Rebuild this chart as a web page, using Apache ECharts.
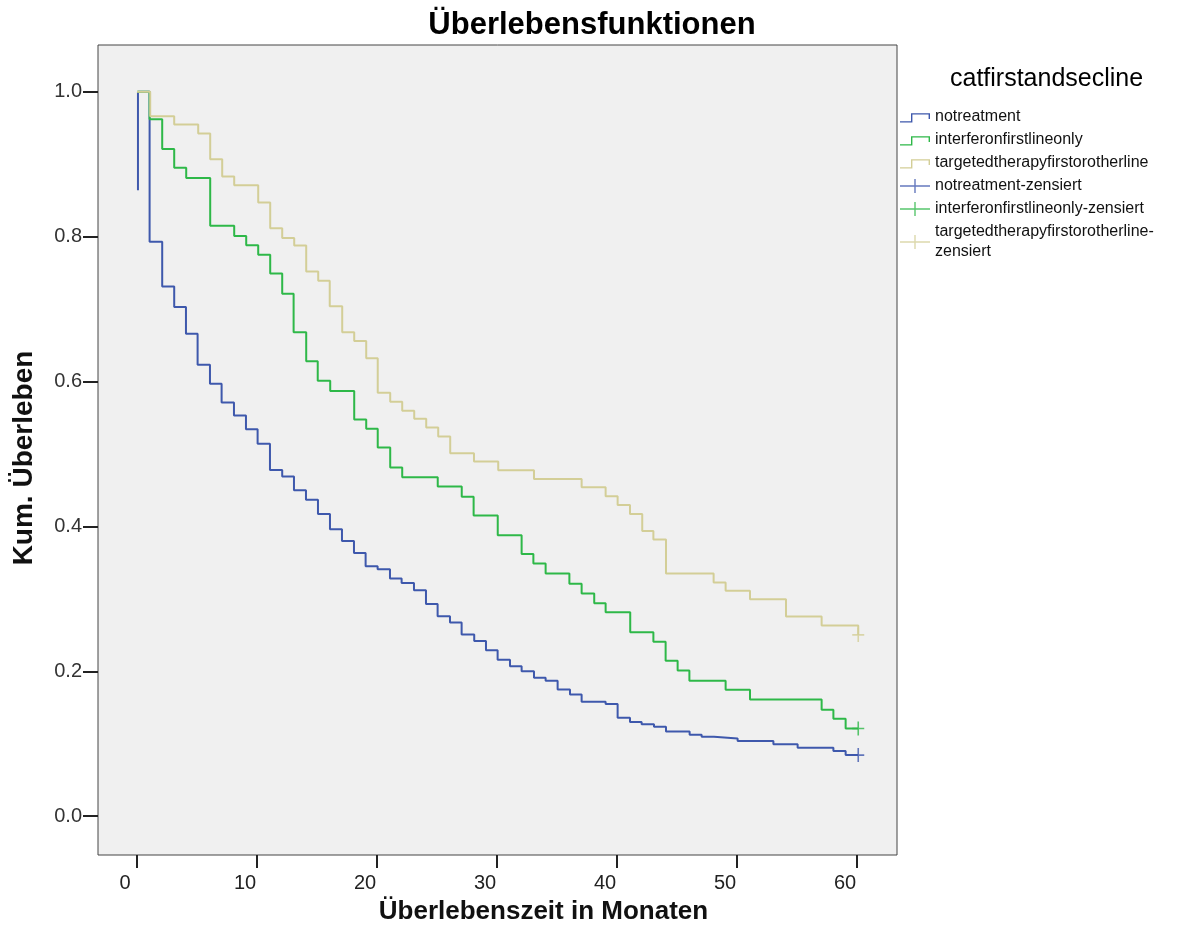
<!DOCTYPE html>
<html><head><meta charset="utf-8">
<script src="https://cdn.jsdelivr.net/npm/echarts@6/dist/echarts.min.js"></script>
<style>html,body{margin:0;padding:0;background:#fff}#c{width:1184px;height:930px}</style>
</head><body><div id="c"></div>
<script>
// ---- data ----
const xTicks = [0, 10, 20, 30, 40, 50, 60];
const yTicks = [0, 0.2, 0.4, 0.6, 0.8, 1.0];
const groupNames = ['notreatment', 'interferonfirstlineonly', 'targetedtherapyfirstorotherline'];
const censoredNames = ['notreatment-zensiert', 'interferonfirstlineonly-zensiert', 'targetedtherapyfirstorotherline-zensiert'];

// [month, cumulative survival] at each step
const noTreatment = [
  [0.08,1.0],[1.05,0.793],[2.1,0.731],[3.1,0.703],[4.08,0.666],[5.05,0.623],[6.08,0.597],[7.05,0.571],
  [8.08,0.553],[9.08,0.534],[10.05,0.514],[11.08,0.478],[12.1,0.469],[13.08,0.450],[14.08,0.437],
  [15.08,0.417],[16.08,0.396],[17.08,0.380],[18.08,0.3635],[19.05,0.345],[20.05,0.341],[21.08,0.328],
  [22.05,0.322],[23.08,0.312],[24.08,0.293],[25.05,0.276],[26.08,0.2675],[27.05,0.251],[28.1,0.242],
  [29.08,0.229],[30.05,0.216],[31.08,0.207],[32.05,0.200],[33.08,0.191],[34.05,0.187],[35.05,0.175],
  [36.08,0.168],[37.05,0.158],[39.05,0.155],[40.05,0.136],[41.08,0.130],[42.05,0.127],[43.08,0.1235],
  [44.08,0.117],[46.05,0.1125],[47.05,0.1097],[48.08,0.1074],[50.05,0.104],[53.03,0.0995],
  [55.05,0.0946],[58.03,0.090],[59.05,0.0844],[60.1,0.0844]
];
const noTreatmentStart = [[0.08,1.0],[0.08,0.864]];
const interferon = [
  [0,1.0],[1.05,0.962],[2.1,0.921],[3.1,0.895],[4.1,0.881],[6.1,0.815],[8.1,0.801],[9.1,0.788],
  [10.1,0.775],[11.1,0.749],[12.1,0.721],[13.05,0.668],[14.1,0.628],[15.06,0.601],[16.1,0.587],
  [18.1,0.5475],[19.1,0.535],[20.06,0.509],[21.1,0.4815],[22.1,0.468],[25.06,0.455],[27.06,0.441],
  [28.05,0.415],[30.06,0.388],[32.05,0.362],[33.03,0.349],[34.05,0.335],[36.03,0.321],[37.05,0.3075],
  [38.1,0.294],[39.05,0.2814],[41.1,0.254],[43.03,0.241],[44.05,0.2147],[45.05,0.201],[46.03,0.187],
  [49.05,0.1745],[51.08,0.161],[57.05,0.147],[58.03,0.1347],[59.05,0.121],[60.1,0.121]
];
const targeted = [
  [0,1.0],[1.1,0.966],[3.1,0.9547],[5.1,0.9424],[6.1,0.9067],[7.1,0.883],[8.1,0.871],[10.1,0.847],
  [11.1,0.8114],[12.1,0.798],[13.1,0.7877],[14.1,0.752],[15.1,0.739],[16.06,0.704],[17.1,0.668],
  [18.1,0.656],[19.1,0.632],[20.06,0.5844],[21.1,0.572],[22.1,0.5598],[23.1,0.5487],[24.1,0.5364],
  [25.1,0.524],[26.1,0.501],[28.08,0.4897],[30.1,0.4776],[33.08,0.4654],[37.05,0.454],[39.05,0.4417],
  [40.05,0.4295],[41.08,0.417],[42.1,0.3937],[43.03,0.382],[44.08,0.335],[48.05,0.3226],[49.05,0.3114],
  [51.08,0.2995],[54.08,0.2757],[57.05,0.2634],[60.1,0.2503]
];
const censoredNoTreatment = [[60.1,0.0844]];
const censoredInterferon = [[60.1,0.121]];
const censoredTargeted = [[60.1,0.2503]];

// ---- styling ----
const colors = ['#3E58AC', '#2EB848', '#D3CE97'];
const stepIcon = 'path://M0,0 L0.01,0 L0,0.01 Z M30,14 L29.99,14 L30,13.99 Z M0,11.2 L11,11.2 L11,3.2 L30,3.2 L30,9 L28.6,9 L28.6,4.6 L12.4,4.6 L12.4,12.6 L0,12.6 Z';
const crossIcon = 'path://M0,6.3 L30,6.3 L30,7.7 L0,7.7 Z M14.3,0 L15.7,0 L15.7,14 L14.3,14 Z';
const crossMark = 'path://M0,6.2 L12,6.2 L12,7.8 L0,7.8 Z M5.2,0 L6.8,0 L6.8,14 L5.2,14 Z';

function stepSeries(name, data, color, z) {
  return { name, type: 'line', step: 'end', data, color, symbol: 'none', showSymbol: false,
    lineStyle: { color, width: 2 }, itemStyle: { color }, z, silent: true, animation: false };
}
function censorSeries(name, data, color) {
  return { name, type: 'scatter', data, color, symbol: crossMark, symbolSize: [12, 14],
    itemStyle: { color }, z: 10, silent: true, animation: false };
}

const chart = echarts.init(document.getElementById('c'), null, { renderer: 'canvas' });
chart.setOption({
  animation: false,
  backgroundColor: '#ffffff',
  title: [
    { text: 'Überlebensfunktionen', left: 'center', top: 5,
      textStyle: { fontFamily: 'Liberation Sans', fontWeight: 'bold', fontSize: 31, color: '#000' } },
    { text: 'catfirstandsecline', left: 945, top: 62,
      textStyle: { fontFamily: 'Liberation Sans', fontWeight: 'normal', fontSize: 25, color: '#000' } }
  ],
  legend: {
    orient: 'vertical', left: 900, top: 107, padding: 0, itemWidth: 30, itemHeight: 14, itemGap: 3,
    selectedMode: false,
    textStyle: { fontFamily: 'Liberation Sans', fontSize: 16, color: '#111', lineHeight: 20 },
    formatter: n => n === censoredNames[2] ? 'targetedtherapyfirstorotherline-\nzensiert' : n,
    data: [
      { name: groupNames[0], icon: stepIcon },
      { name: groupNames[1], icon: stepIcon },
      { name: groupNames[2], icon: stepIcon },
      { name: censoredNames[0], icon: crossIcon },
      { name: censoredNames[1], icon: crossIcon },
      { name: censoredNames[2], icon: crossIcon }
    ]
  },
  grid: { left: 98, top: 45, right: 287, bottom: 70, show: true, backgroundColor: '#F0F0F0',
    borderColor: '#444', borderWidth: 1 },
  xAxis: {
    type: 'value', min: -3.25, max: 63.33,
    name: 'Überlebenszeit in Monaten', nameLocation: 'middle', nameGap: 44,
    nameTextStyle: { fontFamily: 'Liberation Sans', fontWeight: 'bold', fontSize: 26, color: '#111', padding: [0,0,0,92] },
    axisLine: { show: false, onZero: false },
    axisTick: { show: true, customValues: xTicks, length: 13, lineStyle: { color: '#222', width: 2 } },
    axisLabel: { customValues: xTicks, margin: 18, fontFamily: 'Liberation Sans', fontSize: 20, color: '#222',
      padding: [0, 24, 0, 0] },
    splitLine: { show: false }
  },
  yAxis: {
    type: 'value', min: -0.0535, max: 1.0645,
    name: 'Kum. Überleben', nameLocation: 'middle', nameGap: 60,
    nameTextStyle: { fontFamily: 'Liberation Sans', fontWeight: 'bold', fontSize: 28, color: '#111', padding: [0,16,0,0] },
    axisLine: { show: false, onZero: false },
    axisTick: { show: true, customValues: yTicks, length: 15, lineStyle: { color: '#222', width: 2 } },
    axisLabel: { customValues: yTicks, margin: 16, fontFamily: 'Liberation Sans', fontSize: 20, color: '#333',
      formatter: v => v.toFixed(1) },
    splitLine: { show: false }
  },
  series: [
    stepSeries('notreatment-start', noTreatmentStart, colors[0], 2),
    stepSeries(groupNames[0], noTreatment, colors[0], 2),
    stepSeries(groupNames[1], interferon, colors[1], 3),
    stepSeries(groupNames[2], targeted, colors[2], 4),
    censorSeries(censoredNames[0], censoredNoTreatment, colors[0]),
    censorSeries(censoredNames[1], censoredInterferon, colors[1]),
    censorSeries(censoredNames[2], censoredTargeted, colors[2])
  ]
});
</script>
</body></html>
